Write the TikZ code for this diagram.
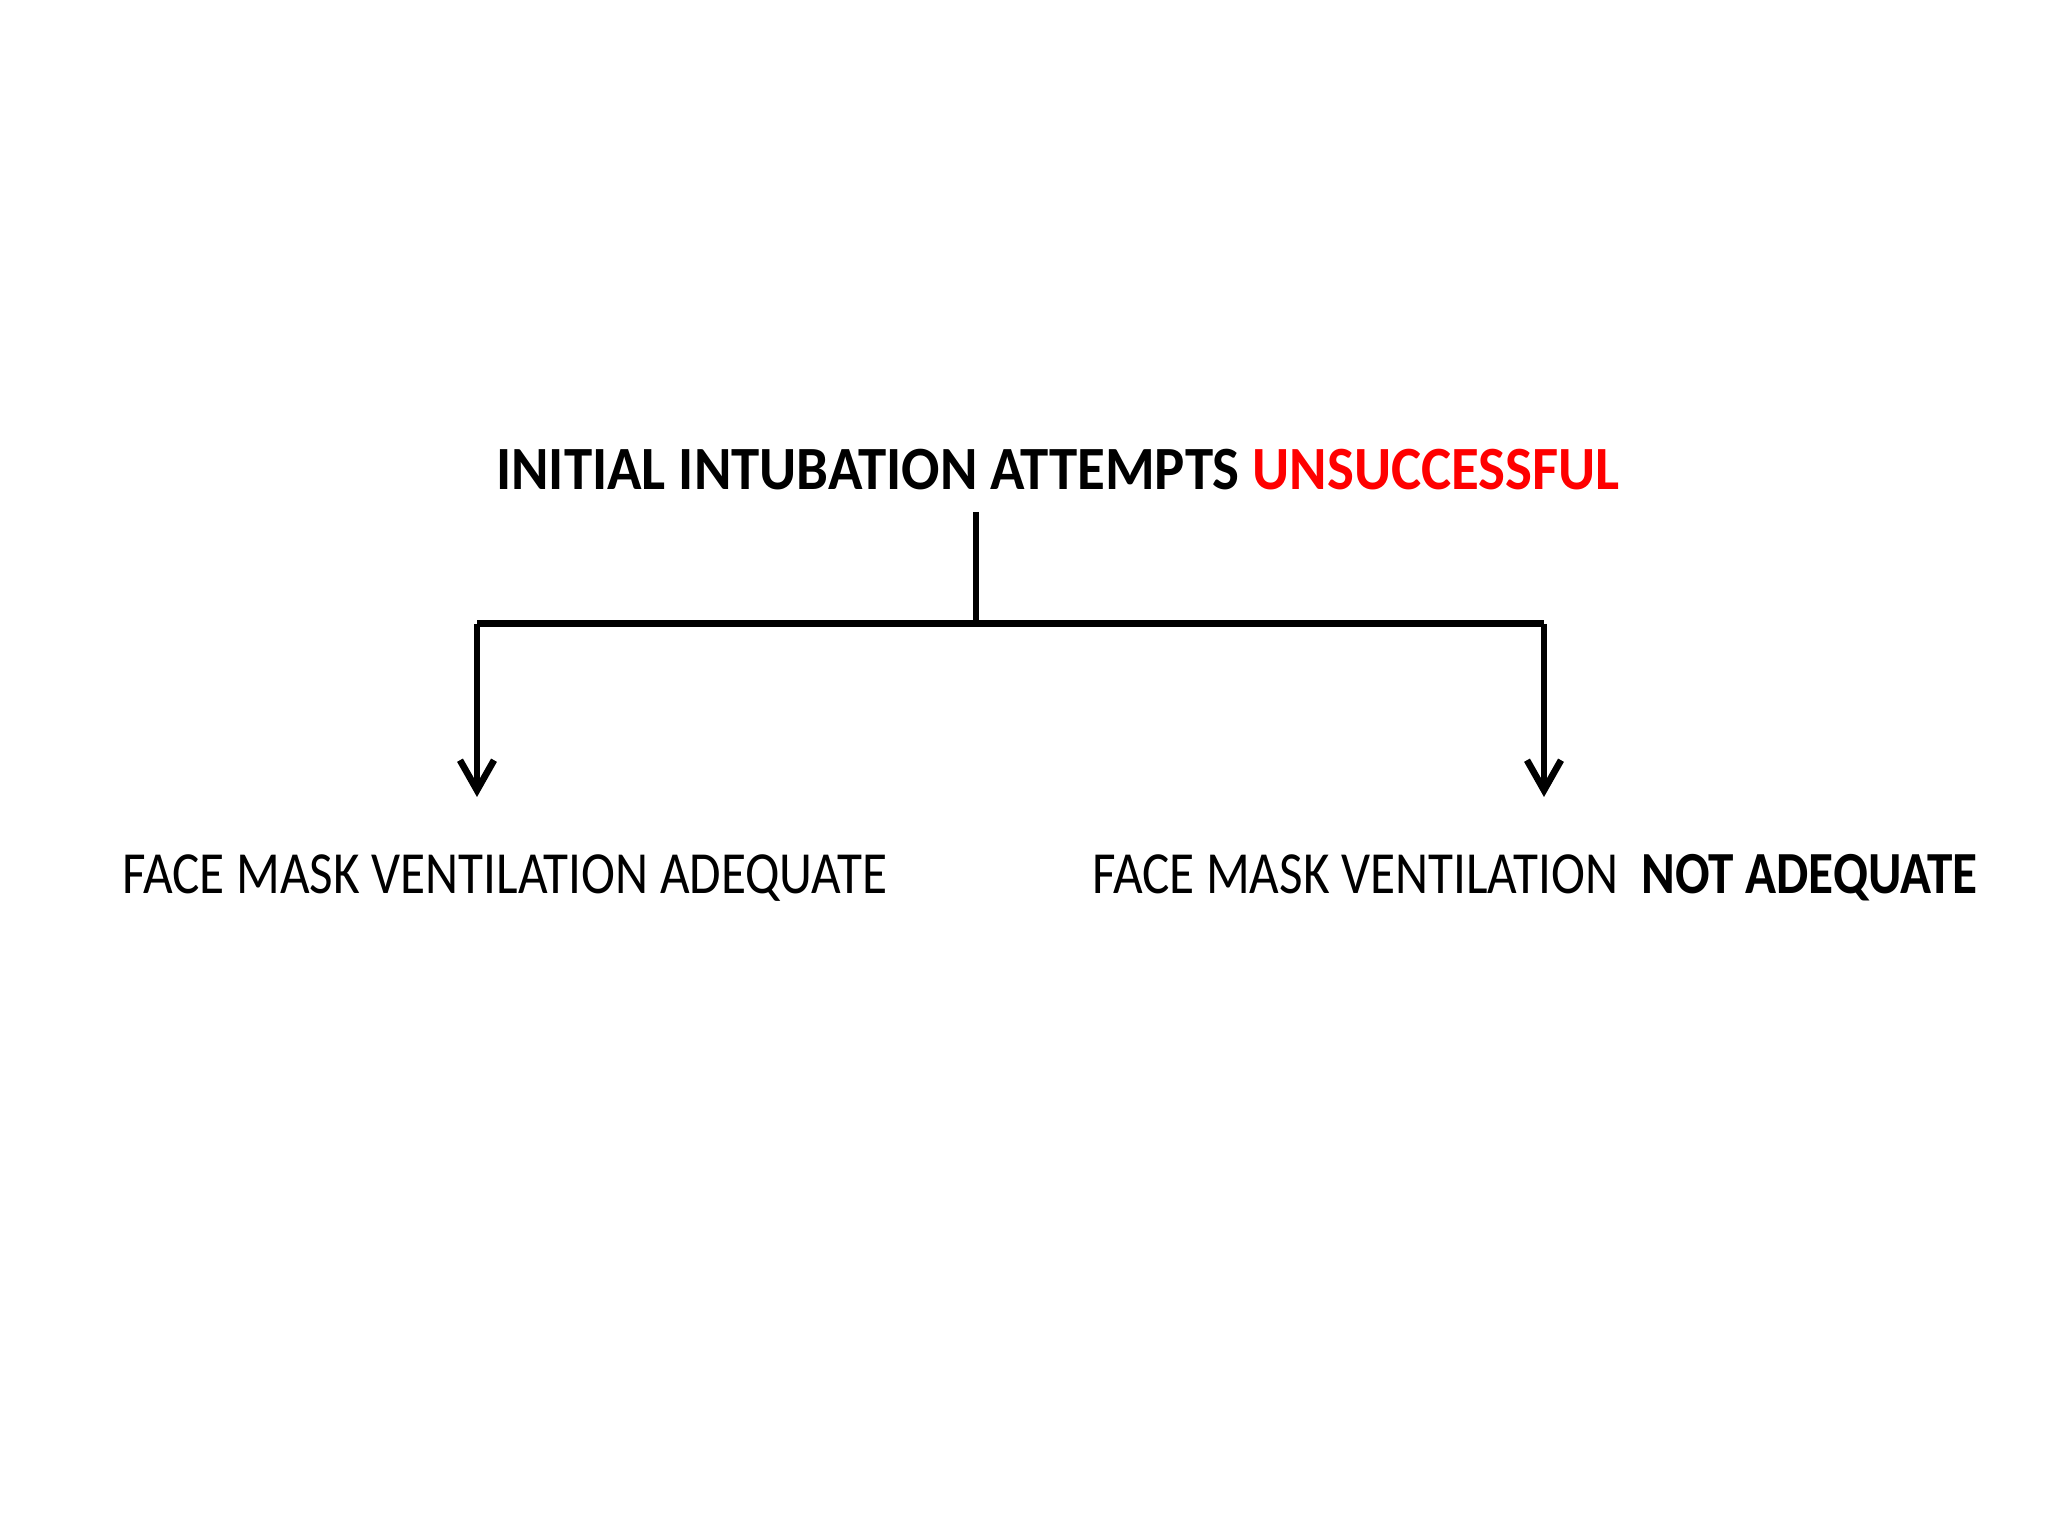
\documentclass[tikz,border=0pt]{standalone}
\usepackage{fontspec}
\setmainfont{Carlito}
\usepackage{tikz}
\usetikzlibrary{arrows.meta, positioning, calc}
\usepackage{xcolor}
\definecolor{inkblack}{HTML}{000000}
\definecolor{alertred}{HTML}{FF0000}

\begin{document}
\begin{tikzpicture}
        \useasboundingbox (0,0) rectangle (20.48,15.36);

        % Question
        \node[text=inkblack, font=\fontsize{17.5}{20}\selectfont\bfseries, inner sep=0pt] (attempts) at (10.58, 10.66) {
            \scalebox{0.925}[1]{INITIAL INTUBATION ATTEMPTS \textcolor{alertred}{UNSUCCESSFUL}}
        };

        % Branch points
        \coordinate (stem) at (9.76, 10.24);
        \coordinate (split) at (9.76, 9.12);
        \coordinate (leftend) at (4.77, 9.12);
        \coordinate (rightend) at (15.44, 9.12);
        \coordinate (lefttip) at (4.77, 7.39);
        \coordinate (righttip) at (15.44, 7.39);

        % Outcomes
        \node[text=inkblack, font=\fontsize{17}{20}\selectfont, inner sep=0pt] (adequate) at (5.05, 6.58) {\scalebox{0.857}[1]{FACE MASK VENTILATION ADEQUATE}};
        \node[text=inkblack, font=\fontsize{17}{20}\selectfont, inner sep=0pt] (notadequate) at (15.35, 6.58) {\scalebox{0.857}[1]{FACE MASK VENTILATION \ \textbf{NOT ADEQUATE}}};

        % Connectors
        \draw[inkblack, line width=1.5pt] (stem) -- (split);
        \draw[inkblack, line width=2pt] (leftend) -- (rightend);
        \draw[-{Straight Barb[length=3mm, width=3.4mm, line width=1.9pt]}, inkblack, line width=1.6pt] (leftend) -- (lefttip);
        \draw[-{Straight Barb[length=3mm, width=3.4mm, line width=1.9pt]}, inkblack, line width=1.6pt] (rightend) -- (righttip);
    \end{tikzpicture}
\end{document}
